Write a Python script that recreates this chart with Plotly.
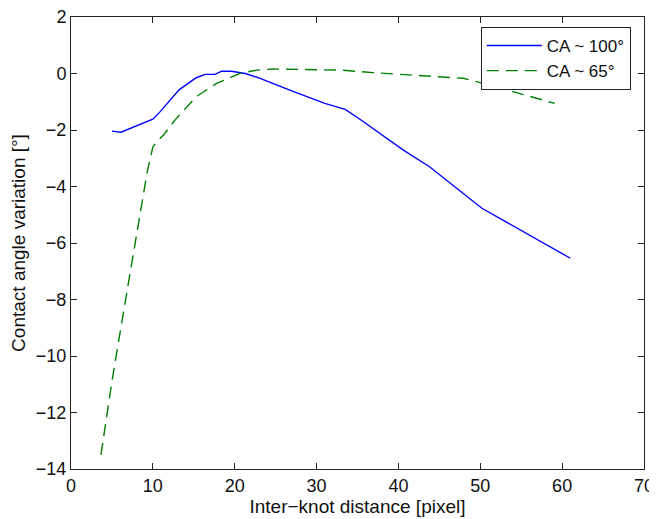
import plotly.graph_objects as go

# CA ~ 100 deg (solid blue)
x_ca100 = [5.0, 6.1, 10.0, 10.9, 13.2, 15.3, 16.4, 17.6, 18.4, 19.6, 21.3, 23.1, 27.2, 31.0, 33.5, 35.3, 40.6, 43.8, 50.2, 61.0]
y_ca100 = [-2.04, -2.08, -1.62, -1.35, -0.58, -0.15, -0.03, -0.03, 0.08, 0.08, 0.0, -0.17, -0.64, -1.06, -1.27, -1.62, -2.71, -3.30, -4.77, -6.54]

# CA ~ 65 deg (dashed green)
x_ca65 = [3.66, 5.0, 6.5, 8.0, 9.3, 10.0, 10.5, 11.3, 12.7, 15.3, 17.8, 20.6, 22.7, 24.7, 27.2, 31.2, 33.0, 36.9, 47.9, 51.2, 59.1]
y_ca65 = [-13.5, -10.9, -8.3, -5.7, -3.5, -2.6, -2.41, -2.18, -1.65, -0.82, -0.35, 0.0, 0.12, 0.16, 0.15, 0.12, 0.12, 0.03, -0.17, -0.41, -1.06]

x_ticks = [0, 10, 20, 30, 40, 50, 60, 70]
y_ticks = [2, 0, -2, -4, -6, -8, -10, -12, -14]

fig = go.Figure()
fig.add_trace(go.Scatter(x=x_ca100, y=y_ca100, mode="lines", name="CA ~ 100°",
                         line=dict(color="#0000ff", width=1.4)))
fig.add_trace(go.Scatter(x=x_ca65, y=y_ca65, mode="lines", name="CA ~ 65°",
                         line=dict(color="#008000", width=1.4, dash="12px,7px")))

font_family = "Liberation Sans, Arial, sans-serif"
axis_common = dict(showgrid=False, zeroline=False, showline=True, linecolor="#222",
                   linewidth=1, mirror="ticks", ticks="inside", ticklen=6,
                   tickcolor="#222", automargin=False, ticklabeloverflow="allow",
                   tickfont=dict(family=font_family, size=18, color="#111"))

# page body has an 8px default margin, so the figure is sized to fit the window
fig.update_layout(
    width=649, height=511,
    margin=dict(l=63, r=13, t=9, b=50),
    paper_bgcolor="white", plot_bgcolor="white",
    font=dict(family=font_family, color="#111"),
    xaxis=dict(range=[0, 70], tickvals=x_ticks,
               title=dict(text="Inter\u2212knot distance [pixel]", font=dict(size=19), standoff=2),
               **axis_common),
    yaxis=dict(range=[-14, 2], tickvals=y_ticks,
               ticktext=[str(v).replace("-", "\u2212") for v in y_ticks],
               title=dict(text="Contact angle variation [°]", font=dict(size=19), standoff=8),
               **axis_common),
    legend=dict(x=0.977, y=0.978, xanchor="right", yanchor="top",
                bordercolor="#222", borderwidth=1, bgcolor="white",
                font=dict(family=font_family, size=17, color="#111"),
                tracegroupgap=0, itemwidth=55),
    showlegend=True,
)

fig.write_html("out.html")
